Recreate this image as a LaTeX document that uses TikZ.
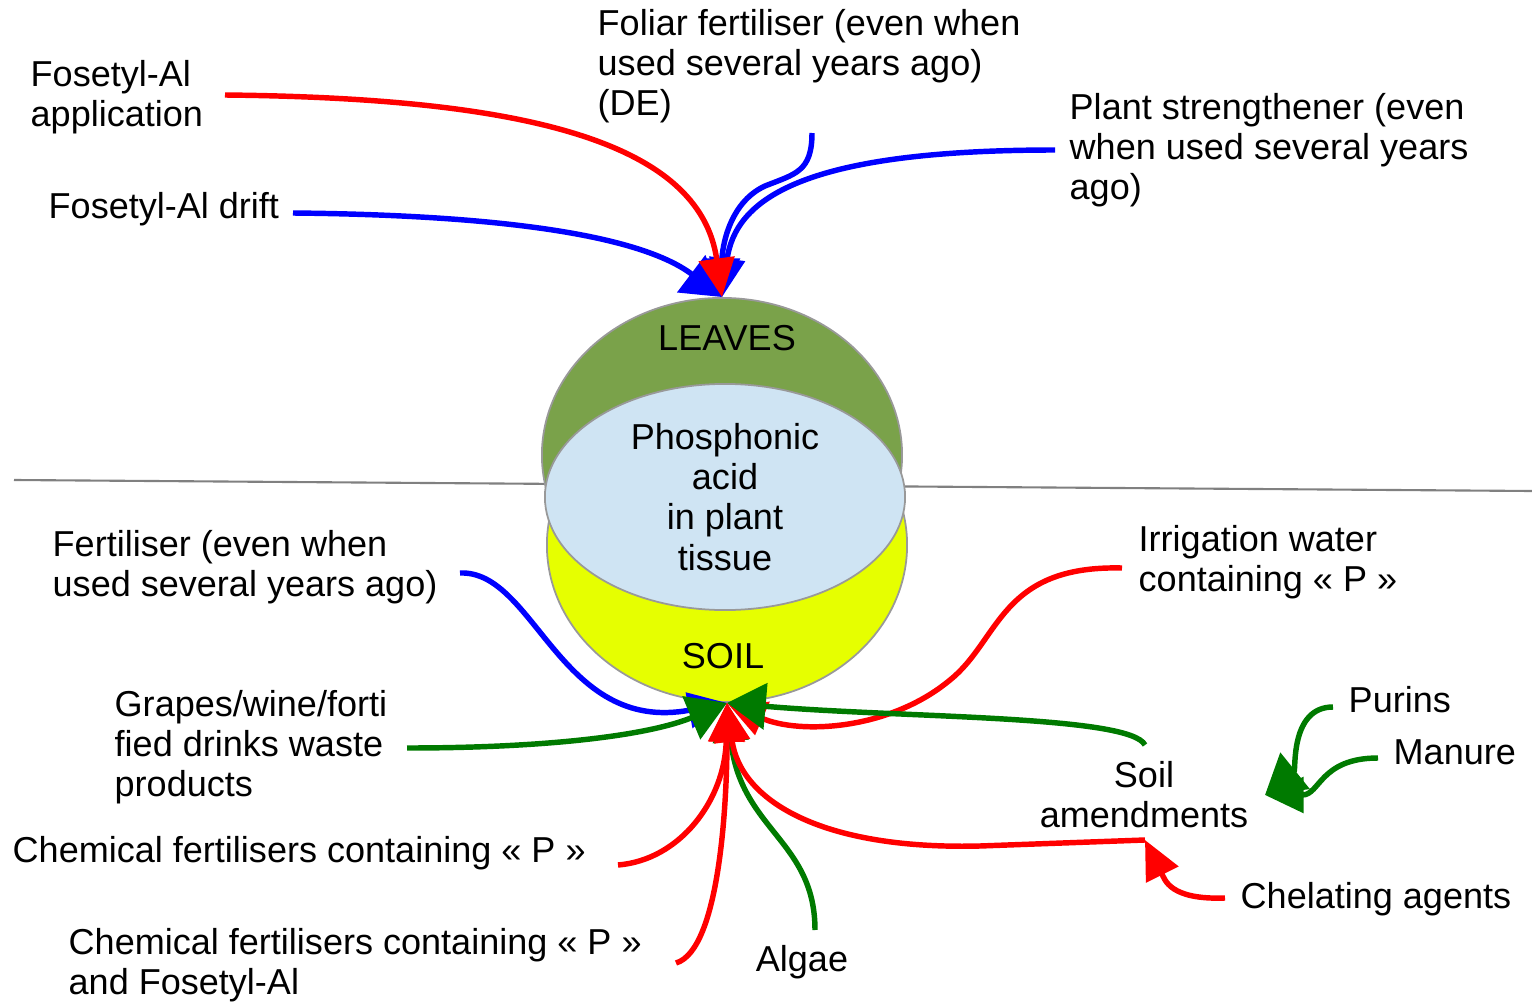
\documentclass[tikz,border=0pt]{standalone}
\usepackage{fontspec}
\setmainfont{Liberation Sans}
\usetikzlibrary{arrows.meta,shapes.geometric}
\definecolor{leafgreen}{RGB}{122,162,74}
\definecolor{soilyellow}{RGB}{230,255,0}
\definecolor{tissueblue}{RGB}{207,228,243}
\definecolor{darkgreen}{RGB}{0,122,0}
\tikzset{
  lbl/.style={anchor=west,inner sep=0pt,align=left,font=\fontsize{10.25}{11.4}\selectfont},
  ctr/.style={inner sep=0pt,align=center,font=\fontsize{10.25}{11.4}\selectfont},
  flow/.style={line width=1.55pt,-{Triangle[length=11pt,width=10pt]}},
  bigflow/.style={line width=1.55pt,-{Triangle[length=11pt,width=13pt]}},
  blob/.style={draw=gray!80,line width=0.5pt,ellipse,minimum width=3.6cm}
}
\begin{document}
\begin{tikzpicture}[x=0.01cm,y=-0.01cm]
	\useasboundingbox (0,0) rectangle (1532,1003);
	\draw[gray,line width=0.6pt] (14,480) -- (1532,491);

	\node[blob,fill=leafgreen,minimum height=3.14cm] (leaves) at (722,455) {};
	\node[blob,fill=soilyellow,minimum height=3.14cm] (soil) at (727,545) {};
	\node[blob,fill=tissueblue,minimum height=2.26cm,ctr] (tissue) at (725,497) {Phosphonic\\acid\\in plant\\tissue};
	\node[ctr] (leaveslbl) at (727,338) {LEAVES};
	\node[ctr] (soillbl) at (723,656) {SOIL};

	\node[lbl] (app)     at (30,97)    {Fosetyl-Al\\application};
	\node[lbl] (drift)   at (48,209)   {Fosetyl-Al drift};
	\node[lbl] (foliar)  at (597,66)   {Foliar fertiliser (even when\\used several years ago)\\(DE)};
	\node[lbl] (plant)   at (1069,150) {Plant strengthener (even\\when used several years\\ago)};
	\node[lbl] (fert)    at (52,567)   {Fertiliser (even when\\used several years ago)};
	\node[lbl] (grapes)  at (114,747)  {Grapes/wine/forti\\fied drinks waste\\products};
	\node[lbl] (chem)    at (12,853)   {Chemical fertilisers containing « P »};
	\node[lbl] (chemfos) at (68,965)   {Chemical fertilisers containing « P »\\and Fosetyl-Al};
	\node[ctr] (algae)   at (802,962)  {Algae};
	\node[lbl] (irrig)   at (1138,562) {Irrigation water\\containing « P »};
	\node[lbl] (purins)  at (1348,700) {Purins};
	\node[lbl] (manure)  at (1393,752) {Manure};
	\node[ctr] (amend)   at (1144,795) {Soil\\amendments};
	\node[lbl] (chel)    at (1240,899) {Chelating agents};

	\coordinate (appS)     at (225,95);
	\coordinate (driftS)   at (293,213);
	\coordinate (foliarS)  at (812,133);
	\coordinate (plantS)   at (1055,150);
	\coordinate (fertS)    at (460,573);
	\coordinate (grapesS)  at (407,748);
	\coordinate (chemS)    at (618,865);
	\coordinate (chemfosS) at (676,963);
	\coordinate (algaeS)   at (815,930);
	\coordinate (irrigS)   at (1122,568);
	\coordinate (amendT)   at (1145,745);
	\coordinate (amendB)   at (1145,840);
	\coordinate (chelS)    at (1225,898);
	\coordinate (purinsS)  at (1333,707);
	\coordinate (manureS)  at (1378,758);
	\coordinate (heap)     at (1265,795);

	\draw[bigflow,blue] (driftS) .. controls (500,215) and (640,235) .. (leaves.north);
	\draw[flow,blue] (foliarS) .. controls (812,172) and (795,174) .. (765,186) .. controls (728,203) and (722,250) .. (leaves.north);
	\draw[flow,blue] (plantS) .. controls (800,150) and (735,200) .. (leaves.north);
	\draw[flow,red] (appS) .. controls (520,98) and (700,140) .. (leaves.north);

	\draw[flow,blue] (fertS) .. controls (535,570) and (560,735) .. (soil.south);
	\draw[bigflow,darkgreen] (grapesS) .. controls (550,748) and (650,735) .. (soil.south);
	\draw[flow,red] (irrigS) .. controls (1000,565) and (1000,640) .. (950,680) .. controls (890,730) and (800,735) .. (soil.south);
	\draw[bigflow,darkgreen] (amendT) .. controls (1130,715) and (900,718) .. (soil.south);
	\draw[flow,darkgreen] (algaeS) .. controls (815,840) and (740,830) .. (soil.south);
	\draw[flow,red] (amendB) -- (980,846) .. controls (820,850) and (740,800) .. (soil.south);
	\draw[flow,red] (chemfosS) .. controls (720,950) and (727,800) .. (soil.south);
	\draw[flow,red] (chemS) .. controls (680,860) and (725,800) .. (soil.south);

	\draw[flow,red] (chelS) .. controls (1170,900) and (1165,880) .. (amendB);
	\draw[flow,darkgreen] (manureS) .. controls (1320,758) and (1320,795) .. (heap);
	\draw[bigflow,darkgreen] (purinsS) .. controls (1290,707) and (1296,770) .. (heap);
\end{tikzpicture}
\end{document}
